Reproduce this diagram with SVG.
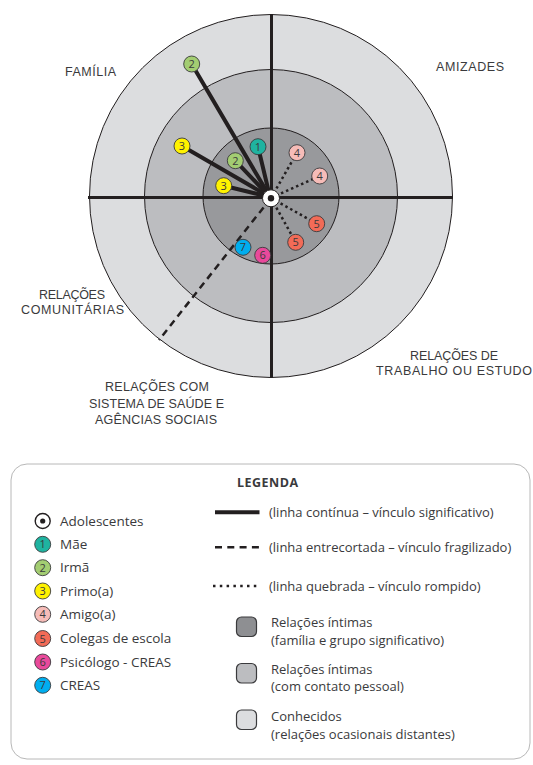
<svg xmlns="http://www.w3.org/2000/svg" width="533" height="765" viewBox="0 0 533 765">
<style>
text{font-family:"Open Sans","Noto Sans","Liberation Sans",sans-serif;fill:#3a3a3c}
.ring{stroke:#231f20;stroke-width:1}
.axis{stroke:#231f20;stroke-width:3;fill:none}
.lbl{font-family:"Liberation Sans",Arial,sans-serif;font-size:12.5px;text-anchor:middle}
.solid{stroke:#231f20;stroke-width:4;stroke-linecap:round;fill:none}
.dash{stroke:#231f20;stroke-width:2.5;stroke-dasharray:7 5;fill:none}
.dot{stroke:#231f20;stroke-width:2.5;stroke-dasharray:2.5 3;fill:none}
.num{font-size:11px;text-anchor:middle}
.lg{font-size:13.5px;text-anchor:start}
.lr{font-size:13px}
.sq{stroke:#3a3a3c;stroke-width:1.2}
</style>
<defs>
<circle id="c" r="8" stroke="#3a3a3c" stroke-width="0.9"/>
</defs>
<g id="rings">
<circle class="ring" cx="271" cy="196" r="181.5" fill="#dcdddf"/>
<circle class="ring" cx="271" cy="196" r="126.5" fill="#bcbdc0"/>
<circle class="ring" cx="271" cy="196" r="68" fill="#98999c"/>
<line class="axis" x1="88" y1="197.5" x2="453" y2="197.5"/>
<line class="axis" x1="271.5" y1="14" x2="271.5" y2="378"/>
</g>
<g id="labels">
<text class="lbl" x="90.5" y="76" textLength="51">FAMÍLIA</text>
<text class="lbl" x="470" y="71" textLength="68">AMIZADES</text>
<text class="lbl" x="72" y="299" textLength="66">RELAÇÕES</text>
<text class="lbl" x="72.5" y="314" textLength="103">COMUNITÁRIAS</text>
<text class="lbl" x="157" y="391" textLength="104">RELAÇÕES COM</text>
<text class="lbl" x="156.5" y="408" textLength="135">SISTEMA DE SAÚDE E</text>
<text class="lbl" x="156" y="424" textLength="122">AGÊNCIAS SOCIAIS</text>
<text class="lbl" x="454" y="360" textLength="88">RELAÇÕES DE</text>
<text class="lbl" x="454" y="375" textLength="156">TRABALHO OU ESTUDO</text>
</g>
<g id="connectors">
<line class="solid" x1="270" y1="197" x2="191.7" y2="64"/>
<line class="solid" x1="270" y1="197" x2="258" y2="146.7"/>
<line class="solid" x1="270" y1="197" x2="235.3" y2="160.7"/>
<line class="solid" x1="270" y1="197" x2="182" y2="146"/>
<line class="solid" x1="270" y1="197" x2="223.7" y2="185.7"/>
<line class="dot" x1="271" y1="198" x2="297" y2="152.7"/>
<line class="dot" x1="271" y1="198" x2="319.7" y2="176"/>
<line class="dot" x1="271" y1="198" x2="316.7" y2="223.7"/>
<line class="dot" x1="271" y1="198" x2="295.7" y2="242.3"/>
<line class="dash" x1="271" y1="198" x2="159" y2="340"/>
</g>
<g id="center">
<circle cx="271" cy="198.3" r="8.5" fill="#fff" stroke="#231f20" stroke-width="1"/>
<circle cx="271" cy="198.3" r="3.2" fill="#231f20"/>
</g>
<g id="n2a"><use href="#c" x="191.7" y="64" fill="#a3cd72"/><text class="num" x="191.7" y="68">2</text></g>
<g id="n1"><use href="#c" x="258" y="146.7" fill="#1fb3a0"/><text class="num" x="258" y="150.7">1</text></g>
<g id="n2b"><use href="#c" x="235.3" y="160.7" fill="#a3cd72"/><text class="num" x="235.3" y="164.7">2</text></g>
<g id="n3a"><use href="#c" x="182" y="146" fill="#fff200"/><text class="num" x="182" y="150">3</text></g>
<g id="n3b"><use href="#c" x="223.7" y="185.7" fill="#fff200"/><text class="num" x="223.7" y="189.7">3</text></g>
<g id="n4a"><use href="#c" x="297" y="152.7" fill="#f6bcb8"/><text class="num" x="297" y="156.7">4</text></g>
<g id="n4b"><use href="#c" x="319.7" y="176" fill="#f6bcb8"/><text class="num" x="319.7" y="180">4</text></g>
<g id="n5a"><use href="#c" x="316.7" y="223.7" fill="#f26b57"/><text class="num" x="316.7" y="227.7">5</text></g>
<g id="n5b"><use href="#c" x="295.7" y="242.3" fill="#f26b57"/><text class="num" x="295.7" y="246.3">5</text></g>
<g id="n7"><use href="#c" x="243" y="247.3" fill="#00aeef"/><text class="num" x="243" y="251.3">7</text></g>
<g id="n6"><use href="#c" x="262.7" y="255.3" fill="#e9499b"/><text class="num" x="262.7" y="259.3">6</text></g>
<g id="legend">
<rect x="11" y="464" width="519" height="295" rx="16" fill="#fff" stroke="#b8b8b8" stroke-width="1"/>
<text x="267.5" y="487" font-size="12.5" font-weight="bold" text-anchor="middle" textLength="61">LEGENDA</text>
<g id="lg-adol"><circle cx="42.7" cy="521" r="7.5" fill="#fff" stroke="#231f20" stroke-width="1.4"/><circle cx="42.7" cy="521" r="2.6" fill="#231f20"/><text class="lg" x="60" y="525.5">Adolescentes</text></g>
<g id="lg1"><use href="#c" x="42.7" y="544.3" fill="#1fb3a0"/><text class="num" x="42.7" y="548.3">1</text><text class="lg" x="60" y="548.8">Mãe</text></g>
<g id="lg2"><use href="#c" x="42.7" y="567.7" fill="#a3cd72"/><text class="num" x="42.7" y="571.7">2</text><text class="lg" x="60" y="572.2">Irmã</text></g>
<g id="lg3"><use href="#c" x="42.7" y="591" fill="#fff200"/><text class="num" x="42.7" y="595">3</text><text class="lg" x="60" y="595.5">Primo(a)</text></g>
<g id="lg4"><use href="#c" x="42.7" y="614.3" fill="#f6bcb8"/><text class="num" x="42.7" y="618.3">4</text><text class="lg" x="60" y="618.8">Amigo(a)</text></g>
<g id="lg5"><use href="#c" x="42.7" y="638.5" fill="#f26b57"/><text class="num" x="42.7" y="642.5">5</text><text class="lg" x="60" y="643">Colegas de escola</text></g>
<g id="lg6"><use href="#c" x="42.7" y="662" fill="#e9499b"/><text class="num" x="42.7" y="666">6</text><text class="lg" x="60" y="666.5">Psicólogo - CREAS</text></g>
<g id="lg7"><use href="#c" x="42.7" y="685.3" fill="#00aeef"/><text class="num" x="42.7" y="689.3">7</text><text class="lg" x="60" y="689.8">CREAS</text></g>
<g id="lg-solid"><line x1="215" y1="512.3" x2="259.5" y2="512.3" stroke="#231f20" stroke-width="4"/><text class="lr" x="269" y="516.5">(linha contínua – vínculo significativo)</text></g>
<g id="lg-dash"><line x1="215" y1="547.3" x2="259.5" y2="547.3" stroke="#231f20" stroke-width="2.5" stroke-dasharray="7 5.3"/><text class="lr" x="269" y="551.5">(linha entrecortada – vínculo fragilizado)</text></g>
<g id="lg-dot"><line x1="213" y1="586" x2="259.5" y2="586" stroke="#231f20" stroke-width="2.5" stroke-dasharray="2.5 4.3"/><text class="lr" x="269" y="590.5">(linha quebrada – vínculo rompido)</text></g>
<g id="lg-sq1"><rect class="sq" x="236.5" y="617" width="20" height="19.5" rx="5" fill="#8e8f92"/><text class="lr" x="271" y="627">Relações íntimas</text><text class="lr" x="271" y="645">(família e grupo significativo)</text></g>
<g id="lg-sq2"><rect class="sq" x="236.5" y="663.5" width="20" height="19.5" rx="5" fill="#bcbdc0"/><text class="lr" x="271" y="674">Relações íntimas</text><text class="lr" x="271" y="691">(com contato pessoal)</text></g>
<g id="lg-sq3"><rect class="sq" x="236.5" y="710" width="20" height="19.5" rx="5" fill="#dcdddf"/><text class="lr" x="271" y="721">Conhecidos</text><text class="lr" x="271" y="738.5">(relações ocasionais distantes)</text></g>
</g>
</svg>
